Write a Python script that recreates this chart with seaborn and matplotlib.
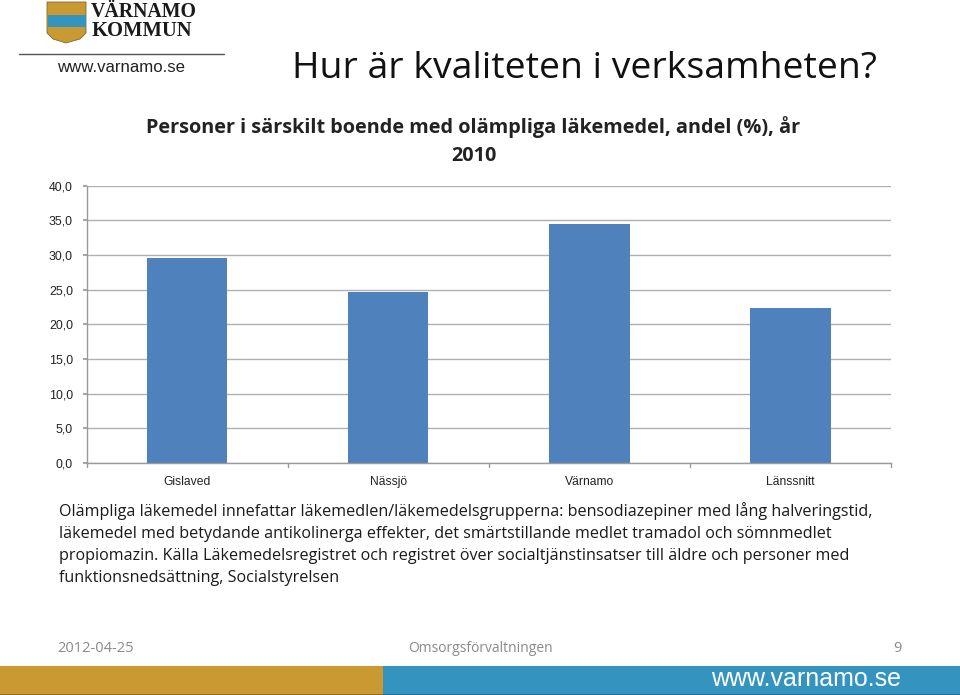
import matplotlib
matplotlib.use("Agg")
import matplotlib.pyplot as plt
from matplotlib.patches import Rectangle, Polygon
from matplotlib.lines import Line2D
import seaborn as sns
import pandas as pd

categories = ["Gislaved", "Nässjö", "Värnamo", "Länssnitt"]
values = [29.6, 24.7, 34.5, 22.4]
yticks = [0, 5, 10, 15, 20, 25, 30, 35, 40]
ytick_labels = ["0,0", "5,0", "10,0", "15,0", "20,0", "25,0", "30,0", "35,0", "40,0"]
slide_title = "Hur är kvaliteten i verksamheten?"
chart_title = ["Personer i särskilt boende med olämpliga läkemedel, andel (%), år", "2010"]
note_lines = [
    "Olämpliga läkemedel innefattar läkemedlen/läkemedelsgrupperna: bensodiazepiner med lång halveringstid,",
    "läkemedel med betydande antikolinerga effekter, det smärtstillande medlet tramadol och sömnmedlet",
    "propiomazin. Källa Läkemedelsregistret och registret över socialtjänstinsatser till äldre och personer med",
    "funktionsnedsättning, Socialstyrelsen",
]
footer = ["2012-04-25", "Omsorgsförvaltningen", "9"]

W, H = 960, 695
sns.set_theme(style="white")
plt.rcParams["font.family"] = ["Open Sans", "DejaVu Sans"]
fig = plt.figure(figsize=(W / 100, H / 100), dpi=100, facecolor="white")

def fx(x): return x / W
def fy(y): return 1 - y / H

# chart
ax = fig.add_axes([fx(86.5), fy(463), (891 - 86.5) / W, (463 - 185.5) / H])
df = pd.DataFrame({"kommun": categories, "andel": values})
sns.barplot(data=df, x="kommun", y="andel", color="#4F81BD", saturation=1, width=0.4, ax=ax,
            linewidth=0, edgecolor="none")
ax.set_xlim(-0.5, 3.5)
ax.set_ylim(0, 40)
ax.set_yticks(yticks)
ax.set_yticklabels(ytick_labels, fontsize=8.9, family="Liberation Sans", color="#222222")
ax.set_xlabel("")
ax.set_ylabel("")
ax.set_xticks([0, 1, 2, 3])
ax.set_xticklabels(categories, fontsize=8.7, family="Liberation Sans", color="#222222")
ax.grid(axis="y", color="#B0B0B0", lw=1)
ax.set_axisbelow(True)
for s in ["top", "right"]:
    ax.spines[s].set_visible(False)
for s in ["left", "bottom"]:
    ax.spines[s].set_color("#9A9A9A")
    ax.spines[s].set_linewidth(1)
ax.tick_params(axis="y", length=3, color="#9A9A9A", pad=6.8, left=True)
ax.tick_params(axis="x", length=0, pad=9.5)
for x in [-0.5, 0.5, 1.5, 2.5, 3.5]:
    ax.plot([x, x], [0, -0.015], transform=ax.get_xaxis_transform(), color="#9A9A9A", lw=1, clip_on=False)

# titles
fig.text(fx(292), fy(69), slide_title, fontsize=26.9, color="#111111", va="center", ha="left")
fig.text(fx(473.5), fy(127), chart_title[0], fontsize=14.3, fontweight="bold", color="#222222", ha="center",
         va="center")
fig.text(fx(473.5), fy(156), chart_title[1], fontsize=14.3, fontweight="bold", color="#222222", ha="center",
         va="center")

# note
for i, line in enumerate(note_lines):
    fig.text(fx(59), fy(511.5 + i * 22.3), line, fontsize=11.65, color="#1a1a1a", va="center", ha="left")

# footer
fig.text(fx(57), fy(648.5), footer[0], fontsize=10.5, color="#8A8A8A", va="center")
fig.text(fx(480), fy(648.5), footer[1], fontsize=10, color="#8A8A8A", va="center", ha="center")
fig.text(fx(902), fy(648.5), footer[2], fontsize=10.5, color="#8A8A8A", va="center", ha="right")
fig.add_artist(Rectangle((0, fy(695)), fx(383), 29 / H, transform=fig.transFigure, color="#C99A31", lw=0))
fig.add_artist(Rectangle((fx(383), fy(695)), fx(577), 29 / H, transform=fig.transFigure, color="#3594BF", lw=0))
fig.add_artist(Rectangle((0, fy(695)), fx(383), 1.5 / H, transform=fig.transFigure, color="#9A6F1A", lw=0))
fig.add_artist(Rectangle((fx(383), fy(695)), fx(577), 1.5 / H, transform=fig.transFigure, color="#1F6E96", lw=0))
fig.text(fx(901), fy(679), "www.varnamo.se", fontsize=18, color="white", va="center", ha="right",
         family="Liberation Sans")

# logo
shield = [(47, 2), (86, 2), (86, 33), (80, 39), (66, 43), (53, 39), (47, 33)]
fig.add_artist(Polygon([(fx(a), fy(b)) for a, b in shield], transform=fig.transFigure,
                       facecolor="#C99A31", edgecolor="#7a6a3a", lw=0.6))
fig.add_artist(Rectangle((fx(47.5), fy(26.5)), 38 / W, 11.5 / H, transform=fig.transFigure, color="#3594BF", lw=0))
fig.text(fx(91), fy(12), "VÄRNAMO", fontsize=14.3, family="Liberation Serif", fontweight="bold",
         color="#1a1a1a", va="center")
fig.text(fx(92), fy(31), "KOMMUN", fontsize=14.8, family="Liberation Serif", fontweight="bold",
         color="#1a1a1a", va="center")
fig.add_artist(Line2D([fx(19), fx(224)], [fy(54), fy(54)], transform=fig.transFigure, color="#555555", lw=1))
fig.text(fx(121.5), fy(68), "www.varnamo.se", fontsize=12.1, family="Liberation Sans", color="#222222",
         va="center", ha="center")

fig.savefig("out.png", dpi=100)
